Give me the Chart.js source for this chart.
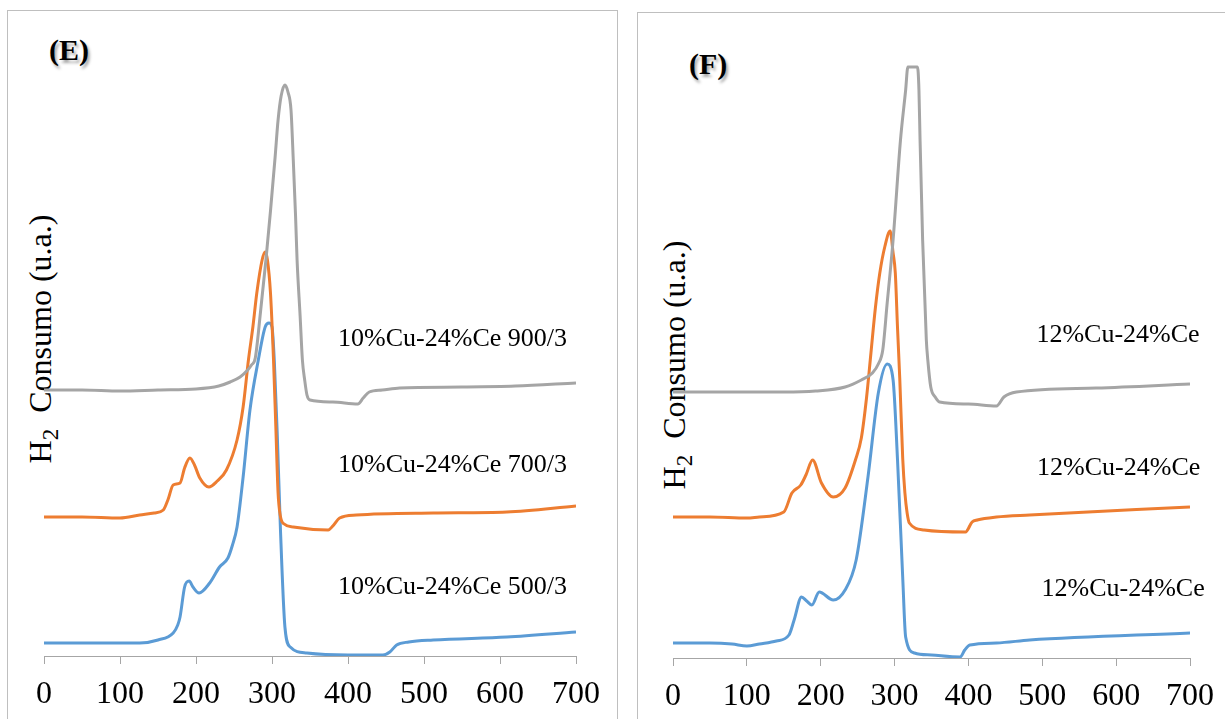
<!DOCTYPE html>
<html>
<head>
<meta charset="utf-8">
<script src="https://cdn.jsdelivr.net/npm/chart.js@4.4.0/dist/chart.umd.min.js"></script>
<style>
  body { margin:0; width:1225px; height:719px; position:relative; overflow:hidden; background:#fff; }
  .panel { position:absolute; border:1px solid #bfbfbf; border-bottom:none; }
  .tag { position:absolute; font:bold 30px "Liberation Serif", serif; text-shadow:2px 3px 3px rgba(0,0,0,0.35); }
  .ytitle { position:absolute; font:32px "Liberation Serif", serif; white-space:nowrap;
            transform:translate(-50%,-50%) rotate(-90deg); }
  .ytitle sub { font-size:23px; vertical-align:-7px; }
  canvas { position:absolute; top:0; }
</style>
</head>
<body>
<div class="panel" style="left:7px;top:10px;width:609px;height:720px;"></div>
<div class="panel" style="left:637px;top:12px;width:600px;height:720px;"></div>
<div class="tag" style="left:49px;top:33px;">(E)</div>
<div class="tag" style="left:689px;top:47px;">(F)</div>
<div class="ytitle" style="left:43px;top:339px;">H<sub>2</sub>&nbsp; Consumo (u.a.)</div>
<div class="ytitle" style="left:677px;top:365px;">H<sub>2</sub>&nbsp; Consumo (u.a.)</div>
<canvas id="chartE" width="625" height="719" style="left:0;"></canvas>
<canvas id="chartF" width="600" height="719" style="left:625px;"></canvas>
<script>
// 온도 축
const tempMin = 0, tempMax = 700, tempStep = 100;

// (E) 10%Cu-24%Ce 500/700/900
const eGrayT = [0,50,100,150,200,230,245,258,268,273,278,285,292,298,304,308,312,317,321,325,328,331,333,337,340,343,346,350,380,413,420,428,445,468,550,620,700];
const eGrayV = [2.66,2.66,2.65,2.66,2.67,2.70,2.74,2.79,2.86,2.91,2.98,3.45,3.96,4.45,4.98,5.36,5.60,5.71,5.64,5.46,4.96,4.40,3.96,3.40,2.96,2.76,2.61,2.56,2.54,2.52,2.58,2.64,2.66,2.68,2.69,2.70,2.73];

const eOrangeT = [0,50,100,126,145,157,163,170,179,185,192,198,205,217,228,240,254,262,269,275,280,287,291,294,298,302,305,308,311,316,328,374,380,389,411,512,609,700];
const eOrangeV = [1.39,1.39,1.38,1.41,1.43,1.46,1.56,1.71,1.73,1.88,1.98,1.91,1.78,1.69,1.75,1.86,2.16,2.49,2.96,3.30,3.63,3.96,4.04,3.96,3.63,2.96,2.30,1.63,1.40,1.32,1.29,1.26,1.30,1.38,1.41,1.43,1.44,1.50];

const eBlueT = [0,50,100,126,150,170,176,179,185,191,196,204,218,231,242,248,254,262,271,282,291,296,300,303,307,311,317,324,346,400,446,455,464,480,512,609,700];
const eBlueV = [0.13,0.13,0.13,0.13,0.16,0.23,0.31,0.39,0.69,0.75,0.69,0.63,0.73,0.89,0.98,1.11,1.29,1.79,2.46,2.96,3.29,3.33,3.29,2.96,2.20,1.29,0.29,0.09,0.03,0.01,0.01,0.04,0.11,0.14,0.16,0.19,0.24];

// (F) 12%Cu-24%Ce
const fGrayT = [0,50,100,150,193,233,255,270,278,284,290,298,308,315,318,331,333,334.5,338,343,345,349,355,361,400,438,448,465,573,700];
const fGrayV = [2.66,2.66,2.66,2.66,2.67,2.71,2.78,2.85,2.94,3.08,3.55,4.18,5.18,5.68,5.91,5.91,5.68,5.18,4.18,3.18,2.98,2.71,2.61,2.56,2.54,2.52,2.61,2.66,2.70,2.74];

const fOrangeT = [0,50,100,117,150,161,173,180,189,201,217,233,247,255,262,268,274,280,287,294,298,301,304,307,311,314,317,320,340,396,405,412,438,483,700];
const fOrangeV = [1.41,1.41,1.40,1.41,1.46,1.65,1.73,1.83,1.98,1.75,1.61,1.70,1.98,2.20,2.60,3.05,3.50,3.85,4.12,4.27,4.05,3.85,3.30,2.80,2.00,1.65,1.45,1.35,1.28,1.26,1.36,1.38,1.41,1.43,1.51];

const fBlueT = [0,50,80,100,117,140,157,164,174,181,188,198,217,233,248,264,278,290,298,304,311,315,327,350,389,395,402,438,483,700];
const fBlueV = [0.15,0.15,0.14,0.12,0.14,0.17,0.23,0.38,0.61,0.57,0.53,0.66,0.58,0.68,0.98,1.81,2.65,2.94,2.78,1.98,0.81,0.21,0.05,0.03,0.01,0.08,0.13,0.15,0.18,0.25];

const eLabels = ['10%Cu-24%Ce 900/3', '10%Cu-24%Ce 700/3', '10%Cu-24%Ce 500/3'];
const fLabels = ['12%Cu-24%Ce', '12%Cu-24%Ce', '12%Cu-24%Ce'];

const colors = { gray:'#a5a5a5', orange:'#ed7d31', blue:'#5b9bd5' };

function pts(t, v){ return t.map((x, i) => ({ x:x, y:v[i] })); }

// 곡선 옆 글씨 (데이터 좌표 기준)
const seriesText = {
  id: 'seriesText',
  afterDatasetsDraw(chart, args, opts) {
    const ctx = chart.ctx;
    const xs = chart.scales.x, ys = chart.scales.y;
    ctx.save();
    ctx.font = '26px "Liberation Serif", serif';
    ctx.fillStyle = '#000';
    ctx.textBaseline = 'middle';
    ctx.textAlign = 'left';
    opts.items.forEach(it => {
      ctx.fillText(it.text, xs.getPixelForValue(it.x), ys.getPixelForValue(it.y));
    });
    ctx.restore();
  }
};

function makeChart(id, series, pad, axisH, items){
  new Chart(document.getElementById(id), {
    type: 'line',
    data: {
      datasets: series.map(s => ({
        data: pts(s[0], s[1]),
        borderColor: s[2],
        borderWidth: 3,
        pointRadius: 0,
        fill: false,
        cubicInterpolationMode: 'monotone'
      }))
    },
    options: {
      responsive: false,
      animation: false,
      layout: { padding: pad },
      scales: {
        x: {
          type: 'linear',
          min: tempMin, max: tempMax,
          ticks: { stepSize: tempStep, color:'#000', padding: 11,
                   font: { family:'"Liberation Serif", serif', size: 32 }, maxRotation: 0 },
          grid: { drawOnChartArea:false, drawTicks:true, tickLength:8, color:'#a6a6a6' },
          border: { display:true, color:'#a6a6a6' },
          afterFit: function(s){ s.height = axisH; }
        },
        y: { display:false, min:0, max:6 }
      },
      plugins: {
        legend: { display:false },
        tooltip: { enabled:false },
        seriesText: { items: items }
      }
    },
    plugins: [seriesText]
  });
}

makeChart('chartE', [
  [eGrayT, eGrayV, colors.gray],
  [eOrangeT, eOrangeV, colors.orange],
  [eBlueT, eBlueV, colors.blue]
], { left:44, right:49, top:56, bottom:0 }, 63, [
  { text:eLabels[0], x:387, y:3.17 },
  { text:eLabels[1], x:387, y:1.91 },
  { text:eLabels[2], x:387, y:0.69 }
]);

makeChart('chartF', [
  [fGrayT, fGrayV, colors.gray],
  [fOrangeT, fOrangeV, colors.orange],
  [fBlueT, fBlueV, colors.blue]
], { left:48, right:30, top:58, bottom:0 }, 61, [
  { text:fLabels[0], x:492, y:3.23 },
  { text:fLabels[1], x:493, y:1.90 },
  { text:fLabels[2], x:499, y:0.69 }
]);
</script>
</body>
</html>
